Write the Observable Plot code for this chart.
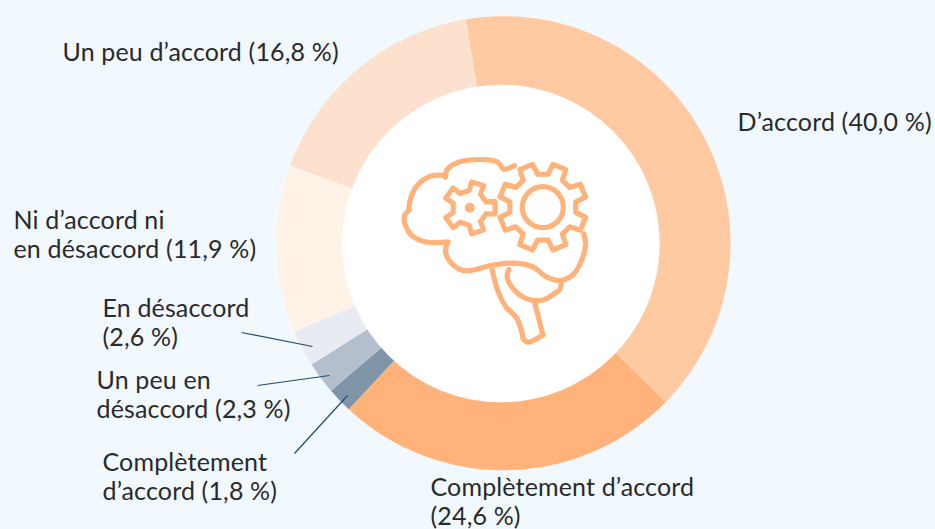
<!DOCTYPE html>
<html><head><meta charset="utf-8">
<script src="https://cdn.jsdelivr.net/npm/d3@7"></script>
<script src="https://cdn.jsdelivr.net/npm/@observablehq/plot@0.6"></script>
<style>html,body{margin:0;padding:0;background:#f1f8fe;overflow:hidden}svg{display:block}svg text{letter-spacing:.15px}</style>
</head><body><div id="chart"></div>
<script>
// Data
const categories = ["D’accord","Complètement d’accord","Complètement d’accord bas","Un peu en désaccord","En désaccord","Ni d’accord ni en désaccord","Un peu d’accord"];
const values = [40.0,24.6,1.8,2.3,2.6,11.9,16.8];
const labels = ["D’accord (40,0 %)","Complètement d’accord\n(24,6 %)","Complètement\nd’accord (1,8 %)","Un peu en\ndésaccord (2,3 %)","En désaccord\n(2,6 %)","Ni d’accord ni\nen désaccord (11,9 %)","Un peu d’accord (16,8 %)"];
const colors = ["#ffc9a1","#ffb27a","#7f94a6","#b3bfcc","#e9ebf2","#fff3e8","#fde0cd"];

// Layout
const W = 935, H = 529, CX = 503, CY = 242.7, R = 227, START = -9.6;
const holeX = 500.4, holeY = 243, holeR = 158.8;
const labelX = [737,430,102,96,102,13,62];
const labelY = [124,489.5,464,382,310,222,54];
const leaders = [
  {x1:241,y1:332,x2:312,y2:346},
  {x1:257,y1:385,x2:329,y2:375},
  {x1:294,y1:453,x2:347,y2:395}
];
const FONT = "Lato, 'Open Sans', sans-serif", SIZE = 25, LH = 29;

// Slices built from the values
const rad = d => d * Math.PI / 180;
const slicePoints = [];
let acc = START;
values.forEach((v, i) => {
  const span = v / d3.sum(values) * 360;
  const steps = Math.max(2, Math.ceil(span));
  const pt = (r, a) => ({name: categories[i], x: CX + r * Math.sin(rad(a)), y: CY - r * Math.cos(rad(a))});
  for (let s = 0; s <= steps; s++) slicePoints.push(pt(R, acc + span * s / steps));
  slicePoints.push(pt(0, acc));
  acc += span;
});
const labelRows = labels.map((t, i) => ({t, x: labelX[i], y: labelY[i]}));

// Icon (decorative): outlines in reference-zoom units
const IX = 390, IY = 145, IS = 1 / 3;
const toIcon = ([a, b]) => ({x: IX + a * IS, y: IY + b * IS});
const iconCurves = [
  [[372,60],[340,71],[322,50],[270,42],[205,50],[170,72],[165,95]],
  [[165,90],[120,92],[80,120],[60,160],[55,195]],
  [[55,195],[42,210],[45,240],[62,268],[100,288],[172,290]],
  [[172,290],[165,318],[180,350],[215,374],[245,374],[300,360],[370,353],[425,363],[470,395],[510,405],[550,385],[575,340],[585,300],[580,265]],
  [[355,372],[350,395],[370,432],[410,460],[460,463],[490,445],[508,432],[512,408]],
  [[305,372],[320,430],[345,482],[380,520],[398,578]],
  [[432,470],[445,520],[457,568]],
  [[398,578],[412,590],[457,568]]
];
function gear(cx, cy, n, off, rootR, tipR, rootW, tipW) {
  const out = [];
  for (let k = 0; k < n; k++) {
    const a = off + k * 360 / n;
    [[rootR,a-rootW],[tipR,a-tipW],[tipR,a+tipW],[rootR,a+rootW]].forEach(([r, b]) =>
      out.push([cx + r * Math.cos(rad(b)), cy + r * Math.sin(rad(b))]));
  }
  out.push(out[0]);
  return out;
}
const gears = [gear(457,185,8,-112.5,100,132,13.5,9), gear(238,187,5,0,52,78,20,14)];
const ICON = "#ffb27a", IW = 5.2;
const iconLine = (pts, curve) => Plot.line(pts.map(toIcon), {x:"x", y:"y", stroke:ICON, strokeWidth:IW, strokeLinecap:"round", strokeLinejoin:"round", curve});

const plot = Plot.plot({
  width: W, height: H, margin: 0,
  style: {background: "#f1f8fe", overflow: "visible"},
  x: {domain: [0, W], range: [0, W], axis: null},
  y: {domain: [0, H], range: [0, H], axis: null},
  color: {domain: categories, range: colors},
  marks: [
    Plot.line(slicePoints, {x:"x", y:"y", z:"name", fill:"name", stroke:"none", curve:"linear"}),
    Plot.dot([{x:holeX,y:holeY}], {x:"x", y:"y", r:holeR, fill:"white", stroke:"none"}),
    Plot.link(leaders, {x1:"x1", y1:"y1", x2:"x2", y2:"y2", stroke:"#1f4e70", strokeWidth:1.2}),
    ...iconCurves.map(c => iconLine(c, "catmull-rom")),
    ...gears.map(c => iconLine(c, "linear")),
    Plot.dot([toIcon([457,185])], {x:"x", y:"y", r:20.5, stroke:ICON, strokeWidth:IW, fill:"none"}),
    Plot.dot([toIcon([238,187])], {x:"x", y:"y", r:5, fill:ICON, stroke:"none"}),
    Plot.text(labelRows, {x:"x", y:"y", text:"t", textAnchor:"start", lineAnchor:"top", dy:-LH/2, lineHeight:LH/SIZE, fontSize:SIZE, fontFamily:FONT, fill:"#2a2a2a"})
  ]
});
document.getElementById("chart").append(plot);
</script></body></html>
